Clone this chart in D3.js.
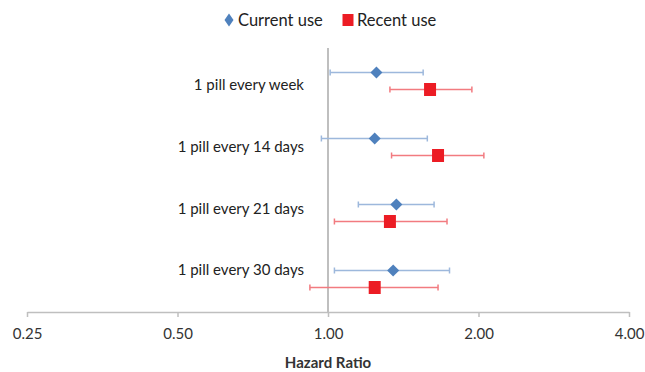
<!DOCTYPE html>
<html>
<head>
<meta charset="utf-8">
<script src="https://cdn.jsdelivr.net/npm/d3@7"></script>
<style>
  body { margin: 0; background: white; }
  text { font-family: Lato, "Open Sans", sans-serif; }
</style>
</head>
<body>
<svg></svg>
<script>
// chart values
let categories = ["1 pill every week", "1 pill every 14 days", "1 pill every 21 days", "1 pill every 30 days"];
let currentHR   = [1.25, 1.24, 1.37, 1.35];
let currentLow  = [1.01, 0.97, 1.15, 1.03];
let currentHigh = [1.55, 1.58, 1.63, 1.75];
let recentHR    = [1.60, 1.66, 1.33, 1.24];
let recentLow   = [1.33, 1.34, 1.03, 0.92];
let recentHigh  = [1.94, 2.05, 1.73, 1.66];
let tickValues  = [0.25, 0.5, 1, 2, 4];
let seriesNames = ["Current use", "Recent use"];

let width = 645;
let height = 372;

let plot = { left: 27, right: 629, top: 48, bottom: 312 };

let blue = "#4F81BD", blueBar = "#9DB8DC";
let red = "#EC1C24", redBar = "#F27B80";

let svg = d3.select("svg")
            .attr("width", width)
            .attr("height", height)
            .style("background-color", "white");

let scaleX = d3.scaleLog()
               .base(2)
               .domain([0.25, 4])
               .range([plot.left, plot.right]);

let scaleY = d3.scaleBand()
               .domain(categories)
               .range([plot.top, plot.bottom]);

let labelY = d3.scalePoint()
               .domain(categories)
               .range([85, 270]);

// x axis
let xAxis = d3.axisBottom(scaleX)
              .tickValues(tickValues)
              .tickFormat(d3.format(".2f"))
              .tickSize(5)
              .tickSizeOuter(0);

let gx = svg.append("g")
   .attr("id", "x-axis")
   .attr("transform", `translate(0, ${plot.bottom})`)
   .call(xAxis);
gx.select(".domain").attr("stroke", "#BFBFBF").attr("stroke-width", 1.5);
gx.selectAll(".tick line").attr("stroke", "#BFBFBF").attr("stroke-width", 1.5);
gx.selectAll(".tick text")
  .attr("y", 16)
  .attr("fill", "#333")
  .style("font-size", "15px");

svg.append("text")
   .attr("x", scaleX(1))
   .attr("y", 368)
   .attr("text-anchor", "middle")
   .style("font-size", "15px")
   .style("font-weight", "bold")
   .attr("fill", "#333")
   .text("Hazard Ratio");

// reference line at 1
svg.append("line")
   .attr("x1", scaleX(1)).attr("x2", scaleX(1))
   .attr("y1", plot.top).attr("y2", plot.bottom)
   .attr("stroke", "#BFBFBF")
   .attr("stroke-width", 2);

// category labels
svg.append("g")
   .selectAll("text")
   .data(categories)
   .enter()
   .append("text")
   .attr("x", 304)
   .attr("y", d => labelY(d))
   .attr("dy", "0.35em")
   .attr("text-anchor", "end")
   .attr("fill", "#222")
   .style("font-size", "15px")
   .text(d => d);

function drawSeries(hr, low, high, offset, lineColor, shape, fill){
    let rows = categories.map((c, i) => ({ cat: c, hr: hr[i], low: low[i], high: high[i] }));
    let yOf = d => scaleY(d.cat) + scaleY.bandwidth() / 2 + offset;
    let g = svg.append("g");

    g.selectAll(".bar")
     .data(rows)
     .enter()
     .append("line")
     .attr("x1", d => scaleX(d.low))
     .attr("x2", d => scaleX(d.high))
     .attr("y1", yOf)
     .attr("y2", yOf)
     .attr("stroke", lineColor)
     .attr("stroke-width", 1.5);

    ["low", "high"].forEach(k => {
        g.selectAll(".cap-" + k)
         .data(rows)
         .enter()
         .append("line")
         .attr("x1", d => scaleX(d[k]))
         .attr("x2", d => scaleX(d[k]))
         .attr("y1", d => yOf(d) - 3)
         .attr("y2", d => yOf(d) + 3)
         .attr("stroke", lineColor)
         .attr("stroke-width", 1.5);
    });

    g.selectAll(".pt")
     .data(rows)
     .enter()
     .append("path")
     .attr("d", shape)
     .attr("transform", d => `translate(${scaleX(d.hr)}, ${yOf(d)})`)
     .attr("fill", fill);
}

let diamond = d3.symbol().type(d3.symbolDiamond2).size(92)();
let square = "M-6,-6.5H6V6.5H-6Z";

drawSeries(currentHR, currentLow, currentHigh, -8.5, blueBar, diamond, blue);
drawSeries(recentHR, recentLow, recentHigh, 8.5, redBar, square, red);

// legend
let legend = svg.append("g").attr("id", "legend");
let legendX = [229, 348];
legend.selectAll("path")
      .data(seriesNames)
      .enter()
      .append("path")
      .attr("d", (d, i) => i === 0 ? "M0,-6.5L4.5,0L0,6.5L-4.5,0Z" : "M-5.5,-6H5.5V6H-5.5Z")
      .attr("transform", (d, i) => `translate(${legendX[i]}, 20)`)
      .attr("fill", (d, i) => i === 0 ? blue : red);
legend.selectAll("text")
      .data(seriesNames)
      .enter()
      .append("text")
      .attr("x", (d, i) => legendX[i] + 9)
      .attr("y", 20)
      .attr("dy", "0.35em")
      .attr("fill", "#222")
      .style("font-size", "16.5px")
      .text(d => d);
</script>
</body>
</html>
